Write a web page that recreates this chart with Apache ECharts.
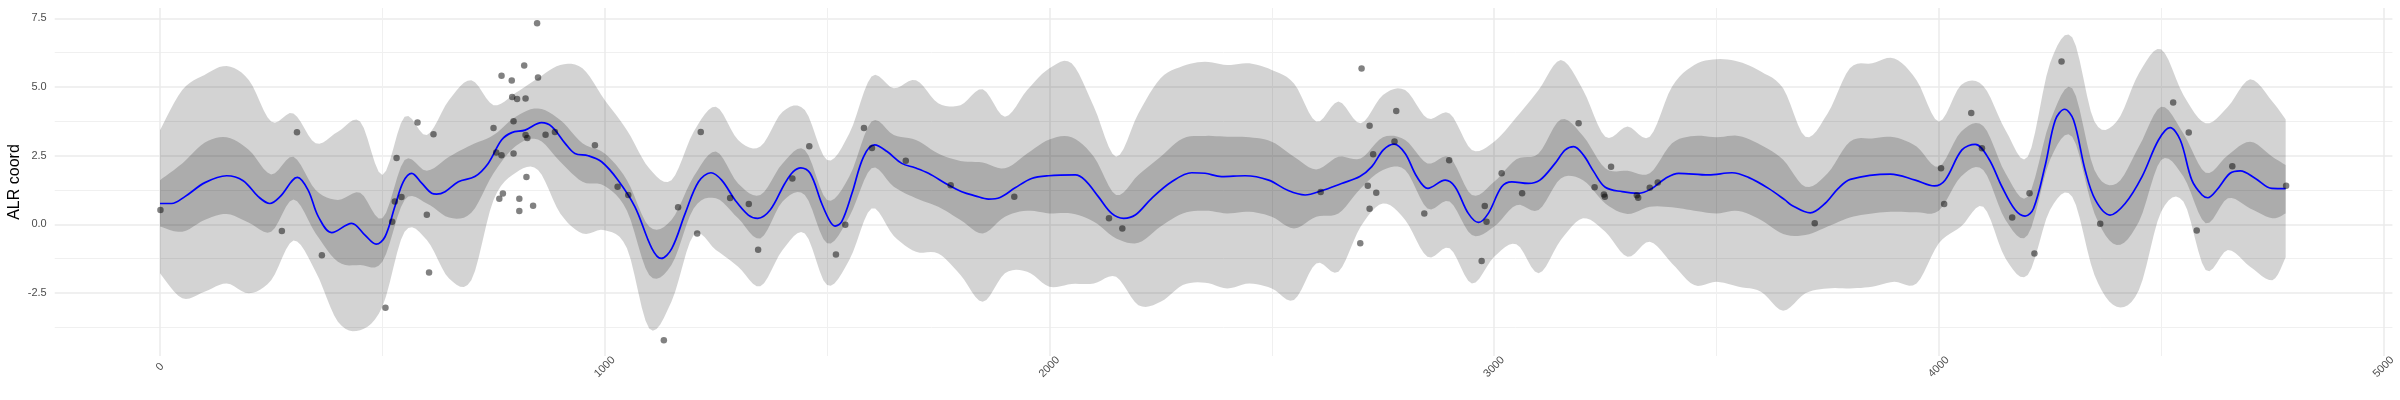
<!DOCTYPE html>
<html><head><meta charset="utf-8">
<style>html,body{margin:0;padding:0;background:#fff}#c{width:2400px;height:400px}</style>
<script src="https://cdn.jsdelivr.net/npm/echarts@6/dist/echarts.min.js"></script>
</head><body><div id="c"></div>
<script>
const bandX = [0,50,100,150,200,250,300,350,400,450,500,550,600,650,700,750,800,850,900,950,1000,1050,1100,1150,1200,1250,1300,1350,1400,1450,1500,1550,1600,1650,1700,1750,1800,1850,1900,1950,2000,2050,2100,2150,2200,2250,2300,2350,2400,2450,2500,2550,2600,2650,2700,2750,2800,2850,2900,2950,3000,3050,3100,3150,3200,3250,3300,3350,3400,3450,3500,3550,3600,3650,3700,3750,3800,3850,3900,3950,4000,4050,4100,4150,4200,4250,4300,4350,4400,4450,4500,4550,4600,4650,4700,4750,4780];
const outerUpper = [3.43,4.89,5.44,5.76,5.25,3.74,4.04,2.95,3.37,3.74,1.80,3.92,3.25,4.53,5.25,4.34,4.79,5.32,5.80,5.68,4.53,3.43,2.04,1.61,3.37,4.28,3.07,2.83,4.10,4.16,2.34,3.31,5.38,4.95,5.25,4.41,4.34,4.92,3.92,4.89,5.68,5.86,4.28,2.46,4.04,5.32,5.76,5.92,5.80,5.86,5.62,5.13,3.74,4.47,3.68,4.71,4.89,3.86,4.04,2.71,3.01,3.90,4.89,5.98,4.89,3.19,3.56,3.19,5.01,5.80,6.01,5.92,5.56,4.95,3.19,4.04,5.68,5.86,6.04,5.25,3.74,5.07,5.04,3.43,2.46,5.86,6.81,3.74,3.74,5.50,6.37,4.71,3.68,4.28,5.28,4.47,3.82];
const innerUpper = [1.61,2.22,2.97,3.17,2.71,1.82,2.46,1.25,0.89,1.15,0.22,2.34,1.95,2.46,2.89,3.25,3.92,4.22,3.80,2.95,2.58,1.61,-0.08,0.16,1.74,2.65,1.49,1.07,2.22,2.71,0.89,1.74,3.74,3.25,3.07,2.58,2.31,2.25,2.04,2.58,3.09,3.17,2.46,1.07,1.80,2.46,3.13,3.22,3.19,3.17,3.01,2.46,2.00,2.46,2.40,3.17,3.07,2.22,2.44,1.07,1.55,2.37,2.58,3.82,3.22,2.04,1.95,1.86,2.95,3.22,3.17,3.22,2.89,2.35,1.37,1.86,3.01,3.13,3.17,2.83,2.10,3.37,3.58,1.86,1.01,3.74,4.95,1.98,1.49,2.83,4.28,3.31,1.88,2.52,3.01,2.46,2.16];
const innerLower = [-0.08,-0.27,0.16,0.38,0.06,-0.27,0.91,-0.33,-1.36,-1.48,-1.36,0.89,0.76,0.25,0.42,1.86,2.85,3.09,2.28,1.55,1.40,0.50,-1.84,-1.48,0.58,0.95,0.22,-0.51,0.83,1.07,-0.69,0.28,2.04,1.37,0.95,0.64,0.16,-0.33,0.28,0.50,0.40,0.40,0.10,-0.51,-0.67,-0.08,0.40,0.50,0.40,0.46,0.28,-0.15,0.28,0.40,1.31,1.98,1.98,0.58,0.83,-0.39,-0.08,0.70,0.52,1.67,1.61,0.76,0.38,0.64,0.62,0.50,0.40,0.49,0.16,-0.35,-0.39,-0.08,0.25,0.40,0.46,0.44,0.50,1.74,1.98,0.16,-0.39,2.34,3.19,0.40,-0.75,0.10,2.34,1.74,0.04,0.95,0.58,0.22,0.40];
const outerLower = [-1.78,-2.69,-2.45,-2.15,-2.51,-2.03,-0.59,-1.72,-3.54,-3.85,-3.00,-0.27,-0.57,-1.97,-2.03,0.89,1.88,1.98,0.40,-0.33,-0.21,-0.87,-3.79,-2.82,-0.39,-0.93,-1.54,-2.25,-0.93,-0.33,-2.21,-1.30,0.58,-0.42,-1.00,-1.06,-1.84,-2.82,-1.78,-1.72,-2.27,-2.17,-2.15,-1.91,-2.94,-2.82,-2.21,-2.12,-2.33,-2.15,-2.33,-2.75,-1.42,-1.72,-0.08,0.76,0.16,-1.18,-0.87,-2.15,-1.18,-0.72,-1.78,-0.57,0.22,-0.27,-1.18,-0.63,-1.42,-2.21,-2.09,-2.27,-2.45,-3.14,-2.51,-2.33,-2.33,-2.27,-2.09,-2.15,-0.69,-0.08,0.64,-1.24,-1.84,0.52,1.01,-1.84,-3.00,-2.39,0.46,0.83,-1.66,-0.93,-1.54,-2.03,-1.20];
const meanLine = [[0,0.76],[26,0.76],[56,1.01],[101,1.52],[150,1.77],[187,1.59],[221,1.01],[247,0.76],[270,1.01],[309,1.71],[333,1.25],[356,0.28],[386,-0.30],[431,0.04],[461,-0.39],[486,-0.72],[506,-0.45],[528,0.64],[547,1.55],[566,1.86],[589,1.49],[611,1.13],[622,1.10],[641,1.19],[671,1.55],[708,1.74],[738,2.22],[768,3.07],[791,3.34],[821,3.43],[858,3.70],[881,3.56],[911,2.95],[933,2.58],[963,2.50],[993,2.28],[1030,1.61],[1068,0.64],[1106,-0.87],[1127,-1.24],[1151,-0.87],[1181,0.40],[1211,1.55],[1239,1.88],[1263,1.61],[1293,0.89],[1323,0.34],[1344,0.22],[1372,0.52],[1405,1.49],[1424,1.92],[1441,2.06],[1462,1.86],[1488,0.76],[1507,0.10],[1518,-0.06],[1533,0.10],[1556,1.13],[1582,2.46],[1607,2.89],[1635,2.65],[1668,2.22],[1698,2.06],[1728,1.86],[1773,1.43],[1803,1.19],[1833,1.04],[1863,0.92],[1889,0.98],[1923,1.33],[1960,1.67],[1998,1.77],[2058,1.80],[2080,1.61],[2110,1.01],[2140,0.40],[2167,0.22],[2193,0.34],[2230,0.95],[2275,1.55],[2320,1.88],[2350,1.86],[2387,1.74],[2440,1.77],[2493,1.61],[2537,1.23],[2575,1.07],[2613,1.23],[2657,1.49],[2698,1.74],[2725,2.10],[2751,2.71],[2775,2.92],[2800,2.58],[2826,1.74],[2851,1.31],[2890,1.61],[2912,1.37],[2942,0.40],[2965,0.07],[2987,0.40],[3017,1.37],[3040,1.55],[3077,1.49],[3103,1.61],[3137,2.22],[3160,2.71],[3179,2.83],[3201,2.52],[3224,1.92],[3250,1.35],[3288,1.19],[3325,1.13],[3355,1.31],[3385,1.67],[3415,1.86],[3482,1.80],[3535,1.88],[3572,1.71],[3617,1.31],[3654,0.89],[3669,0.70],[3711,0.42],[3744,0.76],[3774,1.31],[3801,1.64],[3891,1.83],[3947,1.61],[3990,1.40],[4014,1.61],[4052,2.71],[4082,2.91],[4112,2.40],[4142,1.37],[4172,0.52],[4194,0.30],[4213,0.58],[4240,2.20],[4262,3.80],[4283,4.19],[4303,3.80],[4329,1.98],[4352,0.89],[4385,0.34],[4419,0.76],[4457,1.74],[4494,3.07],[4520,3.52],[4543,3.07],[4569,1.61],[4592,1.07],[4605,0.97],[4625,1.25],[4655,1.86],[4678,1.95],[4712,1.67],[4749,1.31],[4780,1.30]];
const observed = [[1,0.52],[308,3.35],[274,-0.24],[364,-1.12],[507,-3.03],[522,0.10],[528,0.83],[543,1.00],[532,2.42],[579,3.71],[615,3.28],[600,0.35],[605,-1.75],[848,7.32],[819,5.78],[768,5.41],[791,5.24],[850,5.35],[792,4.64],[803,4.56],[822,4.58],[795,3.75],[750,3.51],[822,3.25],[826,3.14],[867,3.26],[888,3.36],[978,2.88],[756,2.62],[768,2.52],[795,2.58],[824,1.72],[771,1.12],[763,0.93],[808,0.93],[808,0.49],[839,0.68],[1029,1.37],[1053,1.07],[1165,0.62],[1208,-0.33],[1133,-4.22],[1216,3.36],[1282,0.96],[1324,0.74],[1345,-0.92],[1422,1.67],[1460,2.84],[1520,-1.10],[1541,-0.01],[1583,3.51],[1601,2.78],[1677,2.32],[1778,1.42],[1921,1.01],[2134,0.22],[2164,-0.15],[2610,1.18],[2702,5.67],[2720,3.59],[2780,4.13],[2776,3.02],[2728,2.55],[2716,1.41],[2735,1.15],[2720,0.57],[2699,-0.69],[2843,0.40],[2899,2.33],[2979,0.67],[2983,0.10],[2972,-1.33],[3017,1.86],[3063,1.13],[3190,3.68],[3263,2.10],[3226,1.35],[3247,1.09],[3249,1.01],[3321,1.06],[3324,0.97],[3350,1.33],[3368,1.52],[3721,0.04],[4005,2.04],[4012,0.74],[4073,4.05],[4097,2.77],[4165,0.25],[4204,1.13],[4215,-1.06],[4276,5.93],[4363,0.02],[4527,4.44],[4562,3.34],[4580,-0.22],[4660,2.12],[4781,1.41]];
const xMajorTicks = [0,1000,2000,3000,4000,5000];
const xMinorTicks = [500,1500,2500,3500,4500];
const yMajorTicks = [-2.5,0,2.5,5,7.5];
const yMinorTicks = [-3.75,-1.25,1.25,3.75,6.25];
const axisTitle = 'ALR coord';

// Smooth one edge of a band in pixel space (drawing only; the values come from the arrays above).
function smoothEdge(p) {
  const out = [], n = p.length, steps = 6;
  for (let i = 0; i < n - 1; i++) {
    const a = p[Math.max(i-1,0)], b = p[i], c = p[i+1], d = p[Math.min(i+2,n-1)];
    for (let s = 0; s < steps; s++) {
      const t = s/steps, t2 = t*t, t3 = t2*t;
      out.push([0,1].map(k => 0.5*(2*b[k]+(c[k]-a[k])*t+(2*a[k]-5*b[k]+4*c[k]-d[k])*t2+(3*b[k]-a[k]-3*c[k]+d[k])*t3)));
    }
  }
  out.push(p[n-1]);
  return out;
}
function band(name, lower, upper, colour) {
  return {
    type:'custom', name:name, silent:true, clip:true,
    encode:{x:0, y:[1,2]},
    data:bandX.map((x,i)=>[x,lower[i],upper[i]]),
    renderItem:(params, api)=>{
      if (params.dataIndex !== 0) return null;
      const up = bandX.map((x,i)=>api.coord([x,upper[i]]));
      const lo = bandX.map((x,i)=>api.coord([x,lower[i]]));
      const pts = smoothEdge(up).concat(smoothEdge(lo).reverse());
      return {type:'polygon', shape:{points:pts}, style:{fill:colour, stroke:'none'}};
    }
  };
}
const xMin=-236.8, xMax=5020, yMin=-4.79, yMax=7.875;
const chart = echarts.init(document.getElementById('c'), null, {renderer:'canvas'});
const off = {show:false};
chart.setOption({
  animation:false, backgroundColor:'#fff',
  textStyle:{fontFamily:'Liberation Sans'},
  grid:{left:54.7, right:7.6, top:8, bottom:44, containLabel:false, outerBoundsMode:'none'},
  xAxis:[
    {type:'value', position:'bottom', min:xMin, max:xMax, axisLine:off, axisTick:{show:false, customValues:xMinorTicks}, axisLabel:{show:false, customValues:xMinorTicks},
     splitLine:{show:true, showMinLine:true, showMaxLine:true, lineStyle:{color:'#f0f0f0', width:1}}},
    {type:'value', position:'bottom', min:xMin, max:xMax, axisLine:off, axisTick:{show:false, customValues:xMajorTicks},
     axisLabel:{show:true, customValues:xMajorTicks, rotate:45, align:'center', verticalAlign:'middle', margin:11, color:'#4d4d4d', fontSize:11, fontFamily:'Liberation Sans', hideOverlap:false, formatter:v=>String(v)},
     splitLine:{show:true, showMinLine:true, showMaxLine:true, lineStyle:{color:'#ebebeb', width:1.5}}}
  ],
  yAxis:[
    {type:'value', position:'left', min:yMin, max:yMax, axisLine:off, axisTick:{show:false, customValues:yMinorTicks}, axisLabel:{show:false, customValues:yMinorTicks},
     splitLine:{show:true, showMinLine:true, showMaxLine:true, lineStyle:{color:'#f0f0f0', width:1}}},
    {type:'value', position:'left', min:yMin, max:yMax, axisLine:off, axisTick:{show:false, customValues:yMajorTicks},
     name:axisTitle, nameLocation:'middle', nameGap:40.5, nameRotate:90, nameMoveOverlap:false,
     nameTextStyle:{color:'#000', fontSize:16, fontFamily:'Liberation Sans', verticalAlign:'middle'},
     axisLabel:{show:true, customValues:yMajorTicks, margin:8, color:'#4d4d4d', fontSize:11, fontFamily:'Liberation Sans', formatter:v=>v.toFixed(1)},
     splitLine:{show:true, showMinLine:true, showMaxLine:true, lineStyle:{color:'#ebebeb', width:1.5}}}
  ],
  series:[
    band('outer', outerLower, outerUpper, 'rgba(0,0,0,0.172)'),
    band('inner', innerLower, innerUpper, 'rgba(0,0,0,0.185)'),
    {type:'line', name:'mean', smooth:0.35, symbol:'none', lineStyle:{color:'#0000ff', width:1.7}, data:meanLine, z:4},
    {type:'scatter', name:'observed', symbol:'circle', symbolSize:6.5, itemStyle:{color:'rgba(0,0,0,0.62)'}, data:observed, z:5}
  ]
});
</script></body></html>
